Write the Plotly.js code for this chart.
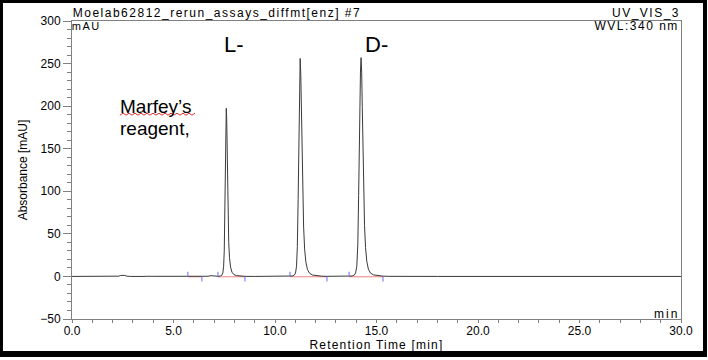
<!DOCTYPE html>
<html>
<head>
<meta charset="utf-8">
<script src="https://cdn.plot.ly/plotly-3.0.1.min.js"></script>
<style>
  html, body { margin: 0; padding: 0; background: #fff; }
  #wrap { position: relative; width: 708px; height: 360px; overflow: hidden; }
  #chart { position: absolute; left: 0; top: 0; width: 708px; height: 360px; }
  #frame { position: absolute; left: 0; top: 0; width: 707px; height: 357px; box-sizing: border-box;
           border-style: solid; border-color: #000; border-width: 3px 4px 6px 3px; pointer-events: none; }
  /* instrument-software texts are drawn with wide letter spacing */
  g.annotation[data-index="0"] text,
  g.annotation[data-index="1"] text,
  g.annotation[data-index="2"] text,
  g.annotation[data-index="3"] text { letter-spacing: 1.5px; }
  g.annotation[data-index="4"] text { letter-spacing: 2px; }
  .g-xtitle text { letter-spacing: 1.2px; }
</style>
</head>
<body>
<div id="wrap"><div id="chart"></div><div id="frame"></div></div>
<script>
// Retention time [min]
const retentionTime = [
  0.00, 0.50, 1.00, 1.50, 2.00, 2.30, 2.40, 2.50, 2.60, 2.70, 2.90, 3.50, 3.70, 3.75, 4.00, 4.50,
  5.00, 5.50, 5.70, 5.85, 5.95, 6.10, 6.40, 6.70, 6.85, 6.95, 7.10, 7.20,
  7.30, 7.38, 7.43, 7.47, 7.50, 7.53, 7.56, 7.58, 7.60, 7.62, 7.64, 7.66, 7.69, 7.72, 7.76, 7.81,
  7.88, 7.97, 8.10, 8.30, 8.52, 9.00, 9.50, 10.00, 10.50, 10.74,
  10.85, 10.95, 11.01, 11.06, 11.10, 11.14, 11.18, 11.21, 11.24, 11.27, 11.30, 11.33, 11.37, 11.41,
  11.46, 11.52, 11.60, 11.70, 11.85, 12.05, 12.30, 12.56, 13.00, 13.50, 13.65,
  13.80, 13.90, 13.97, 14.03, 14.08, 14.12, 14.16, 14.21, 14.24, 14.27, 14.30, 14.33, 14.37, 14.41,
  14.46, 14.52, 14.60, 14.70, 14.85, 15.05, 15.32, 15.60, 16.00, 17.00, 18.00, 20.00, 22.00,
  24.00, 26.00, 28.00, 30.00
];
// Absorbance [mAU]
const absorbance = [
  0.0, 0.0, 0.0, 0.0, 0.1, 0.3, 1.2, 1.6, 1.2, 0.3, 0.0, 0.0, 0.4, 0.2, 0.1, 0.1,
  0.0, 0.0, 0.0, 0.6, 0.8, 0.3, 0.0, 0.2, 0.9, 0.6, 0.1, 0.1,
  0.5, 1.5, 4, 12, 30, 75, 140, 183, 197.5, 185, 150, 110, 68, 40, 22, 11,
  5, 2.3, 1.0, 0.4, 0.1, 0.0, 0.0, 0.0, 0.0, 0.1,
  0.5, 1.5, 4, 12, 35, 90, 175, 235, 256, 238, 195, 145, 95, 58,
  32, 17, 8, 3.8, 1.6, 0.7, 0.3, 0.1, 0.0, 0.0, 0.1,
  0.5, 1.5, 4, 12, 38, 95, 180, 240, 257, 240, 198, 148, 98, 60,
  34, 18, 8.5, 4, 1.8, 0.8, 0.3, 0.1, 0.0, 0.0, 0.0, 0.0, 0.0,
  0.0, 0.0, 0.0, 0.0
];
// Peak integration limits [min]
const peakStart = [5.71, 7.19, 10.74, 13.65];
const peakEnd   = [6.40, 8.52, 12.56, 15.32];

const FONT = 'Liberation Sans, Arial, Helvetica, sans-serif';

// Build integration baseline and delimiter ticks from the limit arrays
const baseX = [], baseY = [], upX = [], upY = [], dnX = [], dnY = [];
for (let i = 0; i < peakStart.length; i++) {
  baseX.push(peakStart[i], peakEnd[i], null); baseY.push(-0.4, -0.4, null);
  upX.push(peakStart[i], peakStart[i], null); upY.push(0, 5.5, null);
  dnX.push(peakEnd[i], peakEnd[i], null);     dnY.push(0, -6, null);
}

const traces = [
  { x: baseX, y: baseY, type: 'scatter', mode: 'lines',
    line: { color: '#ee8080', width: 1 }, hoverinfo: 'skip', showlegend: false },
  { x: retentionTime, y: absorbance, type: 'scatter', mode: 'lines',
    line: { color: '#3a3a3a', width: 1 }, hoverinfo: 'skip', showlegend: false },
  { x: upX, y: upY, type: 'scatter', mode: 'lines',
    line: { color: '#6b6bff', width: 1 }, hoverinfo: 'skip', showlegend: false },
  { x: dnX, y: dnY, type: 'scatter', mode: 'lines',
    line: { color: '#6b6bff', width: 1 }, hoverinfo: 'skip', showlegend: false }
];

// wavy spell-check underline (pixel path)
let wave = 'M0,0';
for (let k = 1; k <= 25; k++) wave += ' L' + (k * 3) + ',' + (k % 2 ? 2 : 0);

const ann = (text, x, y, xa, size, ref) => ({
  text: text, x: x, y: y, xref: ref ? 'paper' : 'x', yref: ref ? 'paper' : 'y',
  xanchor: xa, yanchor: 'middle', borderpad: 0,
  showarrow: false, font: { family: FONT, size: size, color: '#000' }
});

const layout = {
  width: 708, height: 360,
  margin: { l: 72, r: 27, t: 21, b: 41 },
  paper_bgcolor: '#fff', plot_bgcolor: '#fff',
  font: { family: FONT, size: 12, color: '#000' },
  showlegend: false,
  xaxis: {
    range: [0, 30], showgrid: false, zeroline: false,
    showline: true, linecolor: '#808080', linewidth: 1, mirror: true,
    ticks: 'outside', ticklen: 3, tickcolor: '#808080', tickwidth: 1,
    ticklabelstandoff: -2,
    dtick: 5, tick0: 0, tickformat: '.1f',
    minor: { dtick: 1, ticks: 'outside', ticklen: 3, tickcolor: '#808080' },
    tickfont: { family: FONT, size: 12, color: '#000' },
    title: { text: 'Retention Time [min]', font: { family: FONT, size: 12, color: '#000' }, standoff: 0 }
  },
  yaxis: {
    range: [-50, 300], showgrid: false, zeroline: false,
    showline: true, linecolor: '#808080', linewidth: 1, mirror: true,
    ticks: 'outside', ticklen: 8, tickcolor: '#808080', tickwidth: 1,
    dtick: 50, tick0: 0,
    minor: { dtick: 10, ticks: 'outside', ticklen: 4, tickcolor: '#808080' },
    tickfont: { family: FONT, size: 12, color: '#000' },
    title: { text: 'Absorbance [mAU]', font: { family: FONT, size: 12, color: '#000' }, standoff: 10 }
  },
  annotations: [
    ann('Moelab62812_rerun_assays_diffmt[enz] #7', 0.238, 1.027, 'center', 12, true),
    ann('UV_VIS_3', 0.9425, 1.027, 'center', 12, true),
    ann('WVL:340 nm', 27.8, 293.6, 'center', 12),
    ann('mAU', 0.69, 294.2, 'center', 11),
    ann('min', 29.31, -44.1, 'center', 12),
    ann('L-', 7.98, 272, 'center', 22),
    ann('D-', 14.98, 272, 'center', 22),
    ann('Marfey\u2019s', 2.3, 200.1, 'left', 19),
    ann('reagent,', 2.3, 174.3, 'left', 19)
  ],
  shapes: [
    { type: 'path', xref: 'x', yref: 'y', xsizemode: 'pixel', ysizemode: 'pixel',
      xanchor: 2.365, yanchor: 189.4, path: wave,
      line: { color: '#e03030', width: 1 } }
  ]
};

Plotly.newPlot('chart', traces, layout, { staticPlot: true, displayModeBar: false });
</script>
</body>
</html>
